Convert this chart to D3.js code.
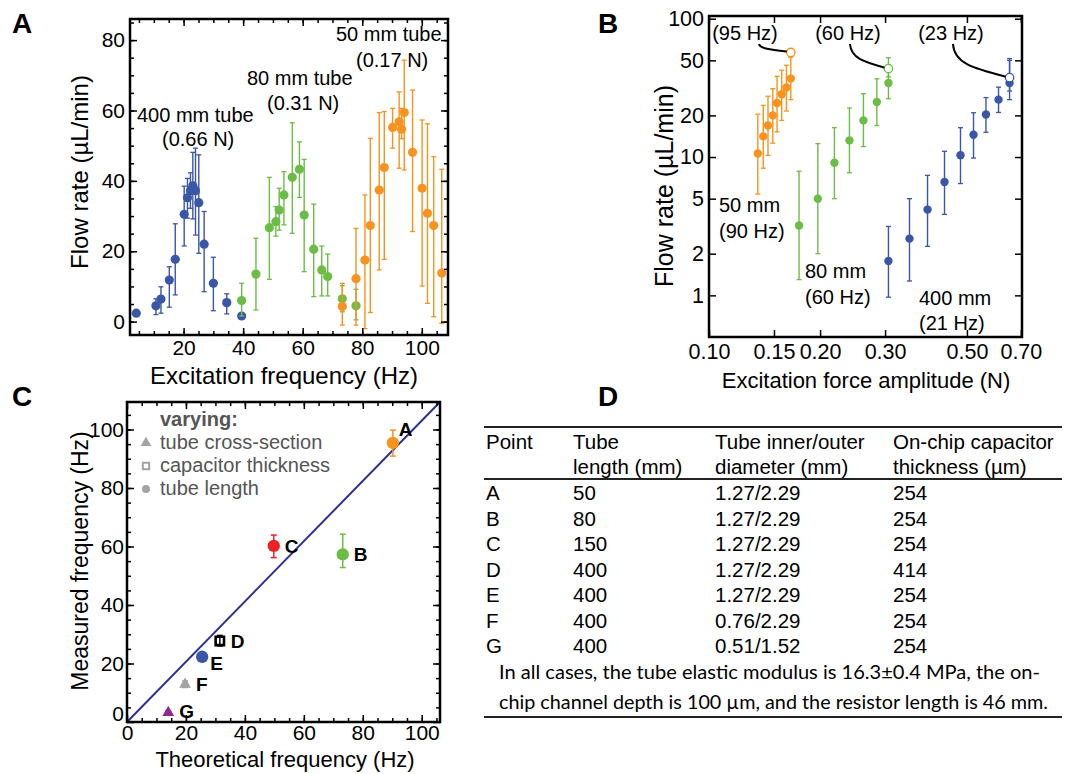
<!DOCTYPE html>
<html>
<head>
<meta charset="utf-8">
<script src="https://cdn.jsdelivr.net/npm/d3@7"></script>
<style>
  body { margin: 0; background: #fff; }
  svg { font-family: "Liberation Sans", Arial, sans-serif; }
</style>
</head>
<body>
<svg id="fig" width="1076" height="774"></svg>
<script>
// ---------- Panel A: flow rate vs excitation frequency ----------
const blueHz   = [4.1, 10.7, 12.4, 15.2, 17.2, 20.2, 21.3, 22.3, 23.1, 24.0, 25.1, 26.9, 30.0, 34.5, 39.5];
const blueFlow = [2.4, 4.5, 6.4, 11.8, 17.7, 30.5, 35.2, 37.2, 38.6, 37.2, 33.8, 22.0, 10.9, 5.4, 1.6];
const blueLo   = [null, 2.0, 2.4, 4.1, 7.6, 21.5, 29.4, 32.2, 29.2, 24.6, 19.4, 8.5, 3.1, 2.2, null];
const blueHi   = [null, 6.5, 9.9, 15.6, 27.8, 38.5, 40.7, 42.3, 48.1, 49.3, 47.4, 31.3, 18.3, 7.9, null];

const greenHz   = [39.5, 44.3, 48.8, 51.0, 52.1, 53.7, 56.5, 58.9, 60.5, 63.7, 66.4, 68.4, 73.3, 77.9];
const greenFlow = [6.0, 13.5, 26.7, 28.4, 31.7, 36.0, 41.0, 43.3, 30.3, 20.6, 14.7, 12.8, 6.5, 4.5];
const greenLo   = [1.6, 3.3, 12.0, 24.3, 26.0, 27.5, 25.1, 35.3, 14.2, 7.1, 7.3, 7.3, 2.8, 0.5];
const greenHi   = [10.9, 23.7, 41.0, 32.7, 37.9, 42.6, 56.5, 51.1, 46.1, 33.4, 21.5, 19.2, 10.2, 9.2];

const orangeHz   = [73.3, 77.9, 80.9, 82.7, 85.7, 87.4, 90.2, 92.4, 93.2, 94.1, 96.9, 100.1, 101.9, 104.0, 106.7];
const orangeFlow = [4.3, 12.2, 17.5, 27.3, 37.4, 43.8, 55.2, 56.8, 54.7, 59.4, 48.1, 37.9, 30.8, 27.3, 13.8];
const orangeLo   = [-1.0, -1.0, -2.0, 2.6, 14.7, 17.7, 49.3, 43.6, 52.0, 43.1, 25.6, 10.1, 5.2, 1.4, -0.5];
const orangeHi   = [10.9, 26.5, 36.0, 52.1, 59.4, 59.7, 60.6, 65.3, 60.6, 74.3, 65.8, 57.3, 56.2, 46.9, 43.3];

const aXTicks = [20, 40, 60, 80, 100];
const aYTicks = [0, 20, 40, 60, 80];

// ---------- Panel B: flow rate vs force amplitude (log-log) ----------
const b50Force = [0.1356, 0.1403, 0.1445, 0.1489, 0.1529, 0.1574, 0.1621, 0.1666];
const b50Rate  = [10.6, 14.1, 16.9, 20.0, 24.6, 28.4, 31.8, 36.9];
const b50Lo    = [5.4, 8.3, 10.3, 12.6, 15.2, 18.4, 21.5, 26.0];
const b50Hi    = [20.4, 23.6, 27.5, 31.2, 38.3, 42.4, 46.0, 52.9];

const b80Force = [0.1754, 0.1972, 0.2187, 0.2402, 0.2621, 0.2850, 0.3064];
const b80Rate  = [3.2, 5.0, 9.1, 13.2, 18.4, 25.0, 34.3];
const b80Lo    = [1.3, 2.0, 5.0, 7.7, 11.9, 16.9, 26.4];
const b80Hi    = [7.9, 12.5, 16.3, 22.6, 28.7, 36.8, 44.8];

const b400Force = [0.3064, 0.3494, 0.3910, 0.4347, 0.4803, 0.5210, 0.5630, 0.6090, 0.6524];
const b400Rate  = [1.77, 2.57, 4.17, 6.6, 10.3, 14.5, 20.3, 26.0, 34.3];
const b400Lo    = [0.97, 1.27, 2.26, 3.85, 6.43, 9.83, 15.1, 21.0, 26.0];
const b400Hi    = [3.15, 5.0, 7.37, 11.0, 16.3, 20.9, 26.9, 32.0, 51.5];

// open circles: runs at the resonance frequency
const bOpenForce = [0.1666, 0.3064, 0.6524];
const bOpenRate  = [57, 43.6, 37.5];
const bOpenLo    = [53, 38, 30];
const bOpenHi    = [60, 52.2, 50];
const bOpenLabel = ['(95 Hz)', '(60 Hz)', '(23 Hz)'];

const bXTicks = [0.10, 0.15, 0.20, 0.30, 0.50, 0.70];
const bYTicks = [1, 2, 5, 10, 20, 50, 100];

// ---------- Panel C: measured vs theoretical frequency ----------
const cNames    = ['A', 'B', 'C', 'D', 'E', 'F', 'G'];
const cTheory   = [90.2, 73.2, 49.8, 31.5, 25.5, 19.7, 14.0];
const cMeasured = [95.4, 57.3, 60.2, 27.7, 22.3, 12.9, 3.2];
const cErrLo    = [90.9, 52.8, 56.2, 26.0, 21.0, 11.8, 2.6];
const cErrHi    = [99.8, 64.2, 63.9, 29.6, 23.6, 14.0, 3.8];
const cShapes   = ['circle', 'circle', 'circle', 'square', 'circle', 'triangle', 'triangle'];
const cColors   = ['#f7931e', '#6cbd45', '#ec2227', '#000000', '#3a56a6', '#a3a3a3', '#92278f'];
const cLegend   = ['tube cross-section', 'capacitor thickness', 'tube length'];
const cLegShape = ['triangle', 'square', 'circle'];
const cTicks    = [0, 20, 40, 60, 80, 100];

// ---------- Panel D: table ----------
const tHead1  = ['Point', 'Tube', 'Tube inner/outer', 'On-chip capacitor'];
const tHead2  = ['', 'length (mm)', 'diameter (mm)', 'thickness (µm)'];
const tPoint  = ['A', 'B', 'C', 'D', 'E', 'F', 'G'];
const tLength = ['50', '80', '150', '400', '400', '400', '400'];
const tDiam   = ['1.27/2.29', '1.27/2.29', '1.27/2.29', '1.27/2.29', '1.27/2.29', '0.76/2.29', '0.51/1.52'];
const tCap    = ['254', '254', '254', '414', '254', '254', '254'];
const tNote   = ['In all cases, the tube elastic modulus is 16.3±0.4 MPa, the on-',
                 'chip channel depth is 100 µm, and the resistor length is 46 mm.'];

const BLUE = '#3a56a6', GREEN = '#6cbd45', ORANGE = '#f7931e';
const svg = d3.select('#fig');

// framed axes with inward ticks on all four sides
function drawFrame(g, x, y, o) {
  const [x0, x1] = x.range(), [y0, y1] = y.range();
  const mk = (axis, tx, ty, vals, size, fmt, pad) => {
    const a = g.append('g').attr('transform', `translate(${tx},${ty})`)
      .call(axis.tickValues(vals).tickSize(size).tickPadding(pad || 4).tickFormat(fmt));
    a.select('.domain').remove();
    a.selectAll('line').attr('stroke', '#000').attr('stroke-width', 1.5);
    a.selectAll('text').attr('font-size', o.fs).attr('fill', '#000')
      .attr('font-family', '"Liberation Sans", Arial, sans-serif');
    return a;
  };
  const none = () => '';
  const bottom = mk(d3.axisBottom(x), 0, y0, o.xMajor, -7, o.xFmt, o.xPad);
  mk(d3.axisTop(x), 0, y1, o.xMajor, -7, none);
  const left = mk(d3.axisLeft(y), x0, 0, o.yMajor, -7, o.yFmt, o.yPad);
  mk(d3.axisRight(y), x1, 0, o.yMajor, -7, none);
  if (o.xMinor) {
    mk(d3.axisBottom(x), 0, y0, o.xMinor, -4, none);
    mk(d3.axisTop(x), 0, y1, o.xMinor, -4, none);
  }
  if (o.yMinor) {
    mk(d3.axisLeft(y), x0, 0, o.yMinor, -4, none);
    mk(d3.axisRight(y), x1, 0, o.yMinor, -4, none);
  }
  g.append('rect').attr('x', x0).attr('y', y1).attr('width', x1 - x0).attr('height', y0 - y1)
    .attr('fill', 'none').attr('stroke', '#000').attr('stroke-width', 2.5);
  return {bottom, left};
}

function errSeries(g, x, y, xs, ys, lo, hi, color, r, open) {
  const d = xs.map((v, i) => ({x: v, y: ys[i], lo: lo[i], hi: hi[i]}));
  const eb = d.filter(p => p.lo != null);
  g.append('g').selectAll('line').data(eb).join('line')
    .attr('x1', p => x(p.x)).attr('x2', p => x(p.x))
    .attr('y1', p => y(p.lo)).attr('y2', p => y(p.hi))
    .attr('stroke', color).attr('stroke-width', 1.4);
  ['lo', 'hi'].forEach(k => {
    g.append('g').selectAll('line').data(eb).join('line')
      .attr('x1', p => x(p.x) - 2.5).attr('x2', p => x(p.x) + 2.5)
      .attr('y1', p => y(p[k])).attr('y2', p => y(p[k]))
      .attr('stroke', color).attr('stroke-width', 1.3);
  });
  g.append('g').selectAll('circle').data(d).join('circle')
    .attr('cx', p => x(p.x)).attr('cy', p => y(p.y)).attr('r', r)
    .attr('fill', open ? '#fff' : color).attr('stroke', color).attr('stroke-width', open ? 1.3 : 0);
}

function txt(g, x, y, s, o = {}) {
  return g.append('text').attr('x', x).attr('y', y).text(s)
    .attr('font-size', o.fs || 20).attr('font-weight', o.bold ? 'bold' : null)
    .attr('text-anchor', o.anchor || 'start')
    .attr('transform', o.rot ? `rotate(-90,${x},${y})` : null);
}

// panel letters
[['A', 12, 33], ['B', 598, 33], ['C', 12, 406], ['D', 598, 406]]
  .forEach(([s, x, y]) => txt(svg, x, y, s, {fs: 28, bold: true}));

// ================= Panel A =================
const ax = d3.scaleLinear().domain([2, 108.8]).range([130, 448]);
const ay = d3.scaleLinear().domain([-3.8, 86]).range([335, 19]);
const gA = svg.append('g');
errSeries(gA, ax, ay, blueHz, blueFlow, blueLo, blueHi, BLUE, 4.6);
errSeries(gA, ax, ay, greenHz, greenFlow, greenLo, greenHi, GREEN, 4.6);
errSeries(gA, ax, ay, orangeHz, orangeFlow, orangeLo, orangeHi, ORANGE, 4.6);
drawFrame(gA, ax, ay, {fs: 21, xMajor: aXTicks, yMajor: aYTicks,
  xMinor: d3.range(5, 108, 5), yMinor: d3.range(0, 86, 5),
  xFmt: d3.format('d'), yFmt: d3.format('d'), xPad: 5, yPad: 5});
txt(gA, 137, 122, '400 mm tube');
txt(gA, 162, 146, '(0.66 N)');
txt(gA, 247, 85, '80 mm tube');
txt(gA, 267, 110, '(0.31 N)');
txt(gA, 336, 41, '50 mm tube');
txt(gA, 356, 67, '(0.17 N)');
txt(gA, 284, 384, 'Excitation frequency (Hz)', {fs: 24, anchor: 'middle'});
txt(gA, 88, 172, 'Flow rate (µL/min)', {fs: 24, anchor: 'middle', rot: true});

// ================= Panel B =================
const bx = d3.scaleLog().domain([0.1, 0.705]).range([709, 1022]);
const by = d3.scaleLog().domain([0.5, 104.6]).range([337, 16]);
const gB = svg.append('g');
errSeries(gB, bx, by, b50Force, b50Rate, b50Lo, b50Hi, ORANGE, 4.2);
errSeries(gB, bx, by, b80Force, b80Rate, b80Lo, b80Hi, GREEN, 4.2);
errSeries(gB, bx, by, b400Force, b400Rate, b400Lo, b400Hi, BLUE, 4.2);
[ORANGE, GREEN, BLUE].forEach((c, i) =>
  errSeries(gB, bx, by, [bOpenForce[i]], [bOpenRate[i]], [bOpenLo[i]], [bOpenHi[i]], c, 4.2, true));
drawFrame(gB, bx, by, {fs: 21.5, xMajor: bXTicks, yMajor: bYTicks,
  xFmt: d3.format('.2f'), yFmt: d3.format('d'), xPad: 7, yPad: 5});
// callouts to the open circles
const calloutX = [745, 848, 951];
const calloutStart = [759, 850, 953];
bOpenLabel.forEach((s, i) => {
  txt(gB, calloutX[i], 40, s, {anchor: 'middle'});
  const sx = calloutStart[i], sy = 44;
  const ex = bx(bOpenForce[i]) - 4, ey = by(bOpenRate[i]) - 1;
  gB.append('path')
    .attr('d', `M${sx},${sy} C${sx + 1},${sy + (ey - sy) * 0.6} ${sx + (ex - sx) * 0.4},${ey - (ey - sy) * 0.25} ${ex},${ey}`)
    .attr('fill', 'none').attr('stroke', '#000').attr('stroke-width', 2);
});
txt(gB, 719, 212, '50 mm');
txt(gB, 719, 238, '(90 Hz)');
txt(gB, 805, 278, '80 mm');
txt(gB, 805, 304, '(60 Hz)');
txt(gB, 919, 305, '400 mm');
txt(gB, 919, 330, '(21 Hz)');
txt(gB, 866, 388, 'Excitation force amplitude (N)', {fs: 22, anchor: 'middle'});
txt(gB, 673, 186, 'Flow rate (µL/min)', {fs: 25, anchor: 'middle', rot: true});

// ================= Panel C =================
const cx = d3.scaleLinear().domain([0, 106.2]).range([127, 440]);
const cy = d3.scaleLinear().domain([0, 109.4]).range([722, 402]);
const gC = svg.append('g');
gC.append('line')
  .attr('x1', cx(0)).attr('y1', cy(0)).attr('x2', cx(106.2)).attr('y2', cy(109.4))
  .attr('stroke', '#2e3192').attr('stroke-width', 2);

const sym = {circle: d3.symbolCircle, square: d3.symbolSquare, triangle: d3.symbolTriangle};
const cData = cNames.map((n, i) => ({n, x: cTheory[i], y: cMeasured[i], lo: cErrLo[i], hi: cErrHi[i], s: cShapes[i], c: cColors[i]}));
gC.append('g').selectAll('line').data(cData).join('line')
  .attr('x1', d => cx(d.x)).attr('x2', d => cx(d.x)).attr('y1', d => cy(d.lo)).attr('y2', d => cy(d.hi))
  .attr('stroke', d => d.c).attr('stroke-width', 1.5);
['lo', 'hi'].forEach(k => gC.append('g').selectAll('line').data(cData).join('line')
  .attr('x1', d => cx(d.x) - 3).attr('x2', d => cx(d.x) + 3).attr('y1', d => cy(d[k])).attr('y2', d => cy(d[k]))
  .attr('stroke', d => d.c).attr('stroke-width', 1.5));
gC.append('g').selectAll('path').data(cData).join('path')
  .attr('transform', d => `translate(${cx(d.x)},${cy(d.y)})`)
  .attr('d', d => d3.symbol(sym[d.s], d.s === 'circle' ? 120 : d.s === 'square' ? 70 : 60)())
  .attr('fill', d => d.s === 'square' ? 'none' : d.c)
  .attr('stroke', d => d.s === 'square' ? d.c : 'none').attr('stroke-width', 2.6);
gC.append('g').selectAll('text').data(cData).join('text')
  .attr('x', d => cx(d.x) + (d.n === 'A' ? 6 : d.n === 'E' ? 8 : 11))
  .attr('y', d => cy(d.y) + (d.n === 'A' ? -7 : d.n === 'E' ? 13 : d.n === 'G' ? 5 : 7))
  .attr('font-size', 19).attr('font-weight', 'bold').text(d => d.n);

const cAxes = drawFrame(gC, cx, cy, {fs: 21, xMajor: cTicks, yMajor: cTicks,
  xMinor: d3.range(5, 106, 5), yMinor: d3.range(5, 109, 5),
  xFmt: d3.format('d'), yFmt: d3.format('d'), xPad: 3, yPad: 3});
// lift the corner "0" of the y axis clear of the x axis "0"
cAxes.left.selectAll('.tick').filter(d => d === 0).select('text').attr('dy', '-0.05em');
txt(gC, 160, 426, 'varying:', {fs: 20, bold: true}).attr('fill', '#555');
cLegend.forEach((s, i) => {
  const ly = 449 + i * 23;
  gC.append('path').attr('transform', `translate(146,${ly - 6})`)
    .attr('d', d3.symbol(sym[cLegShape[i]], cLegShape[i] === 'square' ? 40 : 50)())
    .attr('fill', cLegShape[i] === 'square' ? '#fff' : '#a3a3a3')
    .attr('stroke', cLegShape[i] === 'square' ? '#a3a3a3' : 'none').attr('stroke-width', 2);
  txt(gC, 160, ly, s, {fs: 20}).attr('fill', '#555');
});
txt(gC, 285, 767, 'Theoretical frequency (Hz)', {fs: 22, anchor: 'middle'});
txt(gC, 88, 561, 'Measured frequency (Hz)', {fs: 23, anchor: 'middle', rot: true});

// ================= Panel D =================
const gD = svg.append('g');
const colX = [486, 573, 715, 893];
const rowY = d3.scalePoint().domain(tPoint).range([500, 653]);
[427, 479, 717].forEach(ry => gD.append('line').attr('x1', 484).attr('x2', 1062)
  .attr('y1', ry).attr('y2', ry).attr('stroke', '#222').attr('stroke-width', 2.2));
tHead1.forEach((s, i) => txt(gD, colX[i], 449, s, {fs: 20.5}));
tHead2.forEach((s, i) => txt(gD, colX[i], 474, s, {fs: 20.5}));
[tPoint, tLength, tDiam, tCap].forEach((col, j) => {
  gD.append('g').selectAll('text').data(col).join('text')
    .attr('x', colX[j]).attr('y', (d, i) => rowY(tPoint[i])).attr('font-size', 20.5).text(d => d);
});
tNote.forEach((s, i) => txt(gD, 499, 679 + i * 30, s, {fs: 19})
  .attr('font-family', 'Lato, "Open Sans", sans-serif')
  .attr('textLength', i === 0 ? 541 : 549).attr('lengthAdjust', 'spacingAndGlyphs'));
</script>
</body>
</html>
